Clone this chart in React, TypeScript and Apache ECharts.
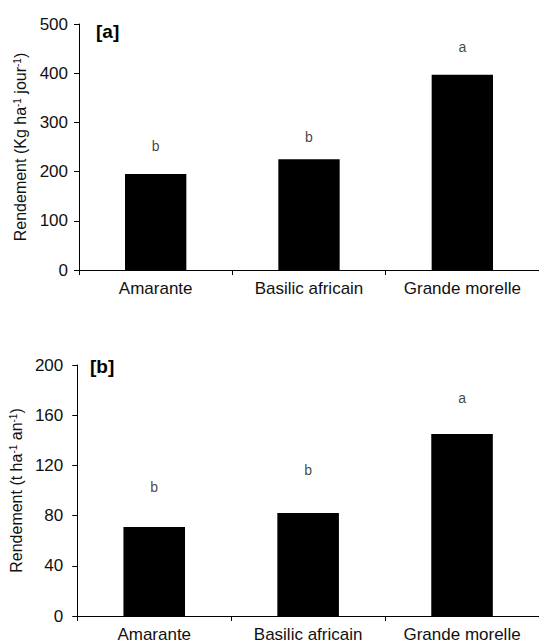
import React, { useEffect, useRef } from "react";
import * as echarts from "echarts";

const categories = ["Amarante", "Basilic africain", "Grande morelle"];
const dailyYield = [195, 225, 397];
const dailyLetters = ["b", "b", "a"];
const dailyLetterPos = [252, 270, 453];
const dailyTicks = { min: 0, max: 500, interval: 100 };

const annualYield = [71, 82, 145];
const annualLetters = ["b", "b", "a"];
const annualLetterPos = [103, 116, 174];
const annualTicks = { min: 0, max: 200, interval: 40 };

const FONT = "'Liberation Sans', Arial, sans-serif";
const TXT = "#111";

export default function App() {
  const ref = useRef<HTMLDivElement>(null);
  useEffect(() => {
    if (!ref.current) return;
    const chart = echarts.init(ref.current, undefined, { renderer: "svg" });
    const axisLine = { show: true, lineStyle: { color: "#000", width: 1 } };
    const mkY = (idx: number, t: any, name: string, gap: number, margin: number) => ({
      type: "value",
      gridIndex: idx,
      min: t.min,
      max: t.max,
      interval: t.interval,
      splitLine: { show: false },
      axisLine,
      axisTick: { show: true, length: 5, lineStyle: { color: "#000" } },
      axisLabel: { fontSize: 17, color: TXT, fontFamily: FONT, margin },
      name,
      nameLocation: "middle",
      nameGap: gap,
      nameTextStyle: {
        fontSize: 16,
        color: TXT,
        fontFamily: FONT,
        rich: {
          sup: { fontSize: 10, color: TXT, fontFamily: FONT, verticalAlign: "top", lineHeight: 10 },
        },
      },
    });
    const mkX = (idx: number) => ({
      type: "category",
      gridIndex: idx,
      data: categories,
      axisLine,
      axisTick: { show: true, length: 5, lineStyle: { color: "#000" } },
      axisLabel: { fontSize: 17, color: TXT, fontFamily: FONT, margin: 10, interval: 0 },
    });
    const letterSeries = (idx: number, pos: number[], letters: string[]) => ({
      type: "scatter",
      xAxisIndex: idx,
      yAxisIndex: idx,
      symbolSize: 0,
      data: pos.map((v, i) => ({ value: v, name: letters[i] })),
      label: {
        show: true,
        position: "inside",
        formatter: (p: any) => p.data.name,
        fontSize: 14,
        color: TXT,
        fontFamily: FONT,
      },
      silent: true,
    });
    chart.setOption({
      animation: false,
      backgroundColor: "#fff",
      grid: [
        { left: 79, top: 24, width: 468, height: 246 },
        { left: 73, top: 365, width: 477, height: 251 },
      ],
      xAxis: [mkX(0), mkX(1)],
      yAxis: [
        mkY(0, dailyTicks, "Rendement (Kg ha{sup|-1} jour{sup|-1})", 50, 11),
        mkY(1, annualTicks, "Rendement (t ha{sup|-1} an{sup|-1})", 44, 14),
      ],
      series: [
        {
          type: "bar",
          xAxisIndex: 0,
          yAxisIndex: 0,
          data: dailyYield,
          barWidth: "40%",
          itemStyle: { color: "#000" },
        },
        {
          type: "bar",
          xAxisIndex: 1,
          yAxisIndex: 1,
          data: annualYield,
          barWidth: "40%",
          itemStyle: { color: "#000" },
        },
        letterSeries(0, dailyLetterPos, dailyLetters),
        letterSeries(1, annualLetterPos, annualLetters),
      ],
      graphic: [
        {
          type: "text",
          left: 96,
          top: 22,
          style: { text: "[a]", fontSize: 19, fontWeight: "bold", fill: "#000", fontFamily: FONT },
        },
        {
          type: "text",
          left: 90,
          top: 357,
          style: { text: "[b]", fontSize: 19, fontWeight: "bold", fill: "#000", fontFamily: FONT },
        },
      ],
    });
    return () => chart.dispose();
  }, []);
  return (
    <div
      ref={ref}
      style={{ position: "fixed", left: 0, top: 0, width: 539, height: 643, background: "#fff" }}
    />
  );
}
